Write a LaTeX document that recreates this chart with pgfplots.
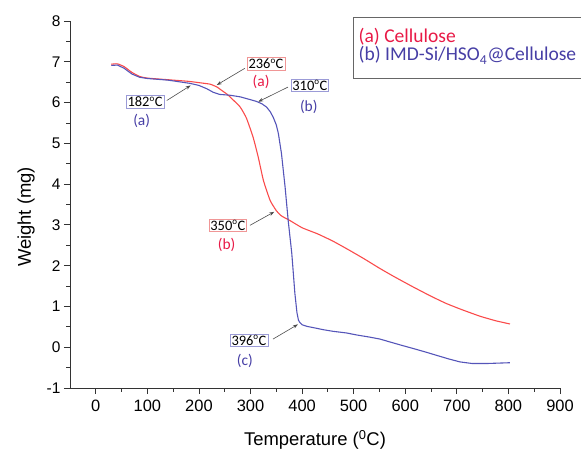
\documentclass[border=0pt]{standalone}
\usepackage{fontspec}
\setmainfont{Liberation Sans}
\newfontfamily\calib{Carlito}
\usepackage{pgfplots}
\pgfplotsset{compat=1.18}
\usetikzlibrary{arrows.meta}
\definecolor{cred}{RGB}{250,75,75}
\definecolor{cblue}{RGB}{85,85,185}
\definecolor{tred}{RGB}{232,25,70}
\definecolor{tblue}{RGB}{70,62,165}
\definecolor{bred}{RGB}{240,150,150}
\definecolor{bblue}{RGB}{155,155,215}
\newcommand{\dg}{\textsuperscript{\fontsize{9}{9}\selectfont o}}
\begin{document}
\begin{tikzpicture}
\begin{axis}[
  at={(70bp,63bp)}, anchor=south west,
  scale only axis, width=490bp, height=367bp,
  xmin=-50, xmax=900, ymin=-1, ymax=8,
  axis x line*=bottom, axis y line*=left,
  axis line style={-, line width=0.9pt, black!80},
  tick align=outside,
  xtick={0,100,...,900}, ytick={-1,0,...,8},
  minor x tick num=1, minor y tick num=1,
  major tick length=6bp, minor tick length=3.5bp,
  every tick/.style={black!80, line width=0.8pt},
  xticklabel style={font=\fontsize{16.5}{16.5}\selectfont, yshift=-2.5bp},
  yticklabel style={font=\fontsize{15.5}{15.5}\selectfont},
  /pgf/number format/assume math mode=true,
  xlabel={Temperature (\textsuperscript{0}C)},
  ylabel={Weight (mg)},
  xlabel style={at={(axis description cs:0.5,-0.1417)}, anchor=center, font=\fontsize{18.5}{18.5}\selectfont},
  ylabel style={at={(axis description cs:-0.0898,0.466)}, anchor=center, rotate=0, font=\fontsize{18.5}{18.5}\selectfont},
  clip=false,
]
\addplot[cred, line width=1.1pt, smooth, tension=0.3] coordinates {
(30,6.94) (42,6.95) (55,6.88) (70,6.74) (85,6.64) (100,6.60) (140,6.56) (180,6.52) (205,6.48) (222,6.45) (235,6.38) (245,6.29) (255,6.20) (265,6.08) (280,5.89) (292,5.62) (305,5.15) (315,4.66) (325,4.09) (338,3.60) (350,3.35) (360,3.22) (376,3.11) (400,2.93) (430,2.78) (460,2.60) (490,2.39) (520,2.17) (551,1.93) (580,1.72) (615,1.48) (650,1.25) (680,1.07) (710,0.92) (745,0.76) (775,0.65) (803,0.57)
};
\addplot[cblue, line width=1.1pt] coordinates {
(30,6.91) (42,6.92) (55,6.84) (70,6.70) (85,6.62) (100,6.59) (140,6.55) (183,6.47) (200,6.42) (215,6.34) (228,6.25) (240,6.20) (260,6.18) (280,6.14) (300,6.07) (311,6.03) (322,5.97) (331,5.89) (338,5.78) (344,5.64) (350,5.45) (354,5.24) (360,4.75) (367,3.93) (373,3.11) (380,2.30) (386,1.32) (390,0.85) (393,0.66) (396,0.60) (400,0.55) (410,0.51) (422,0.48) (441,0.43) (460,0.39) (486,0.35) (506,0.30) (530,0.25) (551,0.20) (570,0.13) (592,0.05) (615,-0.03) (640,-0.12) (661,-0.20) (685,-0.29) (706,-0.36) (730,-0.40) (757,-0.40) (780,-0.39) (803,-0.38)
};
% annotations
\tikzset{ann/.style={line width=0.6pt, inner sep=1.5bp, fill=white, font=\calib\fontsize{14.5}{14.5}\selectfont},
  arr/.style={-{Stealth[length=5bp,width=3.5bp]}, black!70, line width=0.6pt},
  lab/.style={font=\calib\fontsize{15.5}{15.5}\selectfont}}
\draw[arr] (axis cs:289,6.84) -- (axis cs:234.5,6.43);
\node[ann, draw=bred] at (axis cs:330,6.96) {236\dg C};
\node[lab, text=tred] at (axis cs:320.5,6.50) {(a)};
\draw[arr] (axis cs:372.7,6.38) -- (axis cs:315,6.02);
\node[ann, draw=bblue] at (axis cs:415,6.42) {310\dg C};
\node[lab, text=tblue] at (axis cs:413,5.89) {(b)};
\draw[arr] (axis cs:137.6,6.05) -- (axis cs:184,6.42);
\node[ann, draw=bblue] at (axis cs:95.5,6.03) {182\dg C};
\node[lab, text=tblue] at (axis cs:89,5.56) {(a)};
\draw[arr] (axis cs:299,2.99) -- (axis cs:346,3.32);
\node[ann, draw=bred] at (axis cs:256,2.99) {350\dg C};
\node[lab, text=tred] at (axis cs:253.7,2.50) {(b)};
\draw[arr] (axis cs:343.6,0.20) -- (axis cs:392,0.56);
\node[ann, draw=bblue] at (axis cs:297,0.17) {396\dg C};
\node[lab, text=tblue] at (axis cs:289,-0.34) {(c)};
\end{axis}
% legend
\draw[black!60, line width=0.8pt] (353bp,373bp) rectangle (600bp,434bp);
\node[anchor=base west, inner sep=0pt, text=tred, font=\calib\fontsize{19.6}{19.6}\selectfont] at (358.5bp,408.3bp) {(a) Cellulose};
\node[anchor=base west, inner sep=0pt, text=tblue, font=\calib\fontsize{19.6}{19.6}\selectfont] at (358.5bp,390bp) {(b) IMD-Si/HSO\textsubscript{4}@Cellulose};
\pgfresetboundingbox
\path[use as bounding box] (0,0) rectangle (581bp,451bp);
\end{tikzpicture}
\end{document}
